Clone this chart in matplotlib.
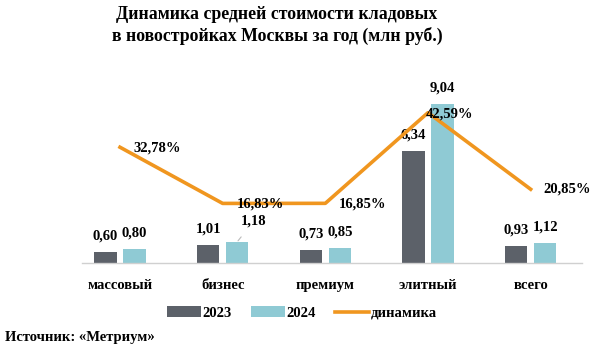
import matplotlib.pyplot as plt
import numpy as np

categories = ["массовый", "бизнес", "премиум", "элитный", "всего"]
v2023 = [0.60, 1.01, 0.73, 6.34, 0.93]
v2024 = [0.80, 1.18, 0.85, 9.04, 1.12]
dyn = [32.78, 16.83, 16.85, 42.59, 20.85]

c23 = "#5c6169"
c24 = "#8fcad4"
corange = "#f0961f"
fnt = "Liberation Serif"

plt.rcParams['font.family'] = [fnt, 'DejaVu Serif']

fig = plt.figure(figsize=(6, 3.51), dpi=100)
ax = fig.add_axes([82/600, (351-262.7)/351, 500/600, 192.7/351])
x = np.arange(len(categories))
w = 0.215
off = 0.141

b1 = ax.bar(x - off, v2023, w, color=c23, label="2023")
b2 = ax.bar(x + off, v2024, w, color=c24, label="2024")
ax.set_xlim(-0.37, 4.5)
ax.set_ylim(0, 10.95)
ax.set_yticks([])
for s in ["top", "right", "left"]:
    ax.spines[s].set_visible(False)
ax.spines["bottom"].set_color("#d0d0d0")
ax.spines["bottom"].set_linewidth(1)
ax.set_xticks(x)
ax.set_xticklabels(categories, fontsize=10.5, fontweight="bold")
ax.tick_params(axis="x", length=0, pad=12)

fmt = lambda v: f"{v:.2f}".replace(".", ",")
for i, v in enumerate(v2023):
    ax.annotate(fmt(v), (x[i] - off, v), xytext=(0, 11.5), textcoords="offset points",
                ha="center", va="center", fontsize=10.5, fontweight="bold")
for i, v in enumerate(v2024):
    if i == 1:
        ax.annotate(fmt(v), (x[i] + off, v), xytext=(12, 15), textcoords="offset points",
                    ha="center", va="center", fontsize=10.5, fontweight="bold",
                    arrowprops=dict(arrowstyle="-", color="#bbbbbb", lw=0.8,
                                    shrinkA=6, shrinkB=1))
    else:
        ax.annotate(fmt(v), (x[i] + off, v), xytext=(0, 11.5), textcoords="offset points",
                    ha="center", va="center", fontsize=10.5, fontweight="bold")

ax2 = ax.twinx()
ax2.set_ylim(0, 54.7)
ax2.set_yticks([])
for s in ax2.spines.values():
    s.set_visible(False)
ln, = ax2.plot(x, dyn, color=corange, lw=2.6, label="динамика")
pct_off = [(10, -0.7), (10.5, -0.7), (9.5, -0.7), (-1.5, -1), (9.5, 0.5)]
for i, v in enumerate(dyn):
    ax2.annotate(f"{v:.2f}".replace(".", ",") + "%", (x[i], v), xytext=pct_off[i],
                 textcoords="offset points", ha="left", va="center",
                 fontsize=10.5, fontweight="bold")

fig.text(277/600, 1 - 6/351, "Динамика средней стоимости кладовых\nв новостройках Москвы за год (млн руб.)",
         ha="center", va="top", fontsize=12.8, fontweight="bold", linespacing=1.3)

fig.legend(handles=[b1, b2, ln], loc="center", bbox_to_anchor=(302/600, 1 - 313/351),
           ncol=3, frameon=False, handlelength=2.3, handletextpad=0.15,
           columnspacing=1.3, prop=dict(family=fnt, weight="bold", size=10.5))

fig.text(5/600, 1 - 338/351, "Источник: «Метриум»", ha="left", va="center",
         fontsize=10.5, fontweight="bold")

fig.savefig("out.png", dpi=100)
